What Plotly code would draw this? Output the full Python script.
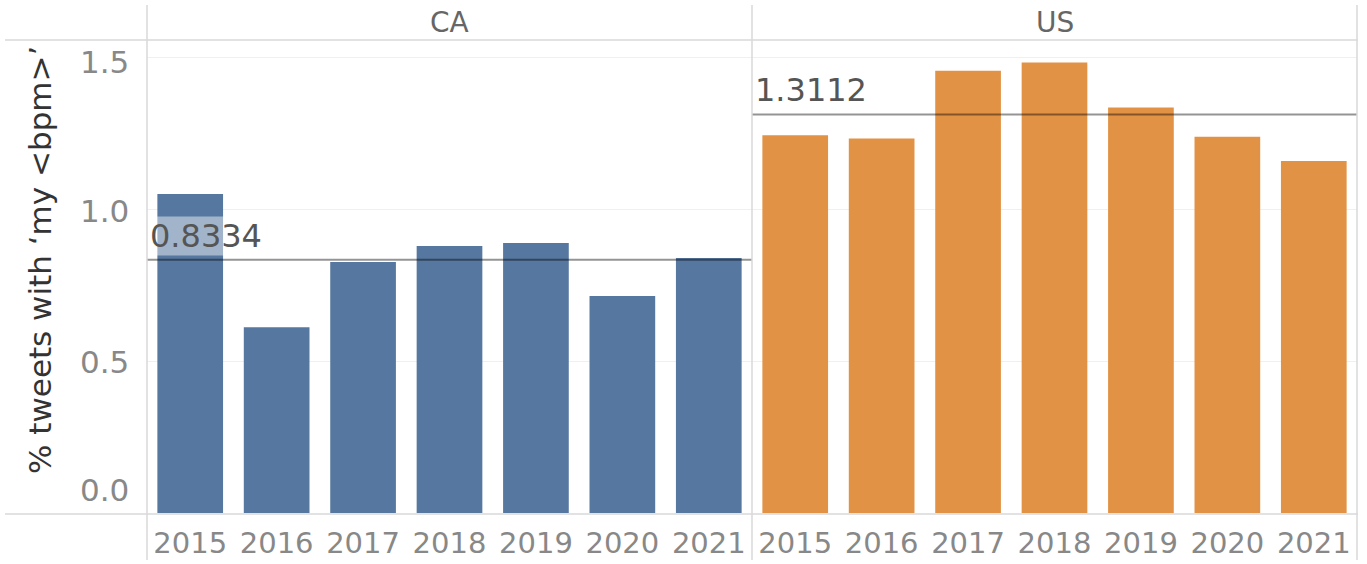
import plotly.graph_objects as go
from plotly.subplots import make_subplots

years = ["2015", "2016", "2017", "2018", "2019", "2020", "2021"]
regions = ["CA", "US"]
ca_values = [1.049, 0.611, 0.826, 0.878, 0.888, 0.714, 0.839]
us_values = [1.243, 1.232, 1.455, 1.482, 1.334, 1.238, 1.158]
ref_values = [0.8334, 1.3112]
y_ticks = [0.0, 0.5, 1.0, 1.5]
y_tick_text = ["0.0", "0.5", "1.0", "1.5"]
colors = ["#56779f", "#e29244"]
y_title = "% tweets with \u2018my <bpm>\u2019"

FONT = "DejaVu Sans"
W, H = 1367, 564
L, R, T, B = 147, 10, 40, 51

fig = make_subplots(rows=1, cols=2, shared_yaxes=True, horizontal_spacing=0)

for i, vals in enumerate([ca_values, us_values]):
    fig.add_trace(go.Bar(x=years, y=vals, marker_color=colors[i], marker_line_width=0,
                         showlegend=False, hoverinfo="skip"), row=1, col=i + 1)
    xr = "x" if i == 0 else "x2"
    fig.add_shape(type="line", xref=f"{xr} domain", yref="y", x0=0, x1=1,
                  y0=ref_values[i], y1=ref_values[i],
                  line=dict(color="rgba(0,0,0,0.42)", width=2), layer="above")
    fig.add_annotation(xref=f"{xr} domain", yref="y", x=0.004, y=ref_values[i],
                       text=f"{ref_values[i]:.4f}", showarrow=False, xanchor="left",
                       yanchor="bottom", yshift=4, font=dict(family=FONT, size=32, color="#555"),
                       bgcolor="rgba(255,255,255,0.45)", borderpad=0)
    fig.add_annotation(xref=f"{xr} domain", yref="paper", x=0.5, y=1.0, yanchor="bottom",
                       yshift=-1, text=regions[i], showarrow=False,
                       font=dict(family=FONT, size=28, color="#666"))

pw = W - L - R
ph = H - T - B
def px(xp):
    return (xp - L) / pw
def py(yp):
    return (H - B - yp) / ph

# y tick labels (bottom label is nudged up inside the pane, as in the reference)
shifts = {0.0: 23, 0.5: -1, 1.0: -2, 1.5: -5}
for v, t in zip(y_ticks, y_tick_text):
    fig.add_annotation(xref="paper", yref="y", x=px(131), y=v, text=t, showarrow=False,
                       xanchor="right", yanchor="middle", yshift=shifts[v],
                       font=dict(family=FONT, size=31, color="#888"))

line_col = "#d9d9d9"
for yy in [40, 514]:
    fig.add_shape(type="line", xref="paper", yref="paper", x0=px(5), x1=px(1358),
                  y0=py(yy), y1=py(yy), line=dict(color=line_col, width=1.5))
for xx in [147, 752, 1357]:
    fig.add_shape(type="line", xref="paper", yref="paper", x0=px(xx), x1=px(xx),
                  y0=py(5), y1=py(560), line=dict(color=line_col, width=1.5))

fig.add_annotation(xref="paper", yref="paper", x=px(40), y=py(260), text=y_title,
                   textangle=-90, showarrow=False, xanchor="center", yanchor="middle",
                   font=dict(family=FONT, size=31, color="#333"))

fig.update_yaxes(range=[0, 1.556], tickvals=y_ticks, showticklabels=False,
                 showgrid=True, gridcolor="#f0f0f0", gridwidth=1, zeroline=False,
                 showline=False, ticks="")
fig.update_xaxes(showgrid=False, showline=False, ticks="", zeroline=False,
                 ticklabelstandoff=10,
                 tickfont=dict(family=FONT, size=29, color="#888"))

fig.update_layout(width=W, height=H, margin=dict(l=L, r=R, t=T, b=B, autoexpand=False),
                  plot_bgcolor="white", paper_bgcolor="white", bargap=0.24,
                  font=dict(family=FONT))

fig.write_html("out.html", config={"displayModeBar": False},
               post_script="document.body.style.margin='0';")
